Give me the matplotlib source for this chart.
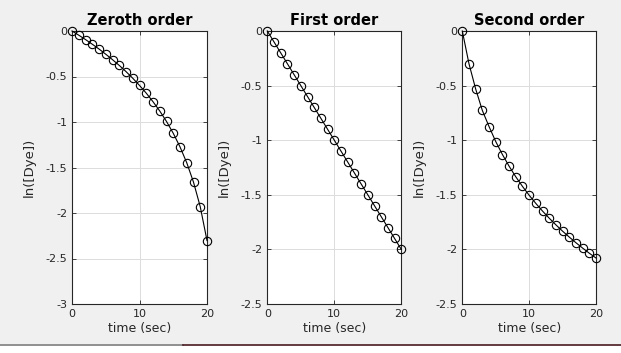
import matplotlib
matplotlib.use('Agg')
import matplotlib.pyplot as plt
from matplotlib.patches import Rectangle
from matplotlib.lines import Line2D

t = list(range(21))

zeroth = [0, -0.046, -0.094, -0.145, -0.198, -0.255, -0.315, -0.378, -0.446,
          -0.519, -0.598, -0.683, -0.777, -0.879, -0.994, -1.124, -1.273,
          -1.448, -1.661, -1.931, -2.303]
first = [0, -0.1, -0.2, -0.3, -0.4, -0.5, -0.6, -0.7, -0.8, -0.9, -1.0,
         -1.1, -1.2, -1.3, -1.4, -1.5, -1.6, -1.7, -1.8, -1.9, -2.0]
second = [0, -0.300, -0.531, -0.728, -0.875, -1.012, -1.131, -1.238, -1.335,
          -1.423, -1.504, -1.579, -1.649, -1.714, -1.775, -1.833, -1.887,
          -1.939, -1.988, -2.035, -2.079]

titles = ['Zeroth order', 'First order', 'Second order']
series = [zeroth, first, second]
ymins = [-3, -2.5, -2.5]

W, H = 621, 353
fig = plt.figure(figsize=(W / 100, H / 100), dpi=100)
fig.patch.set_facecolor('#f0f0f0')

# screenshot strip at the bottom
fig.add_artist(Rectangle((0, 0), 1, 7 / H, transform=fig.transFigure,
                         facecolor='white', edgecolor='none'))
fig.add_artist(Line2D([0, 183 / W], [8 / H, 8 / H], transform=fig.transFigure,
                      color='#808080', lw=1.2))
fig.add_artist(Line2D([183 / W, 1], [8 / H, 8 / H], transform=fig.transFigure,
                      color='#4a1c22', lw=1.2))

lefts = [72, 267.3, 462.3]
widths = [135, 134, 133.7]
for i in range(3):
    ax = fig.add_axes([lefts[i] / W, 49 / H, widths[i] / W, 273 / H])
    ax.set_facecolor('white')
    ax.plot(t, series[i], '-o', color='k', lw=0.8, markersize=6,
            markerfacecolor='none', markeredgewidth=0.8, clip_on=False, zorder=3)
    ax.set_xlim(0, 20)
    ax.set_ylim(ymins[i], 0)
    ax.set_xticks([0, 10, 20])
    yt = [ymins[i] + 0.5 * k for k in range(int(-ymins[i] / 0.5) + 1)]
    ax.set_yticks(yt)
    ax.set_yticklabels(['%g' % v for v in yt])
    ax.grid(True, color='#dcdcdc', lw=0.7)
    ax.set_axisbelow(True)
    ax.tick_params(direction='in', length=3, width=0.6, labelsize=8,
                   top=True, right=True, colors='#262626', labelcolor='#262626')
    for s in ax.spines.values():
        s.set_linewidth(0.8)
        s.set_color('#262626')
    ax.set_title(titles[i], fontsize=10.5, fontweight='bold', pad=4)
    ax.set_xlabel('time (sec)', fontsize=9, color='#262626', labelpad=2)
    ax.set_ylabel('ln([Dye])', fontsize=9.5, color='#262626', labelpad=7)

fig.savefig('out.png', dpi=100, facecolor=fig.get_facecolor())
